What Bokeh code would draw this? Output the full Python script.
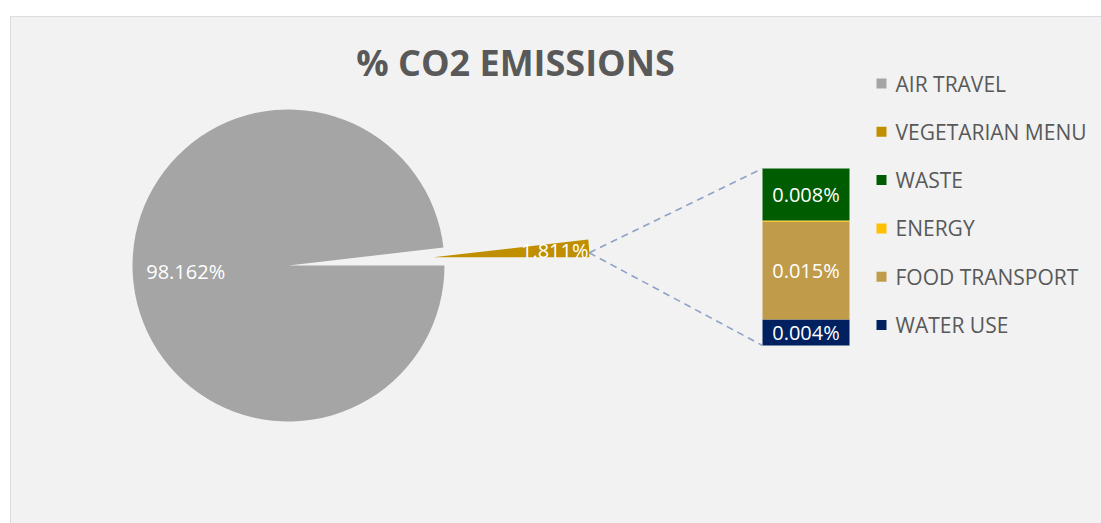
import math
from bokeh.plotting import figure
from bokeh.models import Range1d, ColumnDataSource
from bokeh.core.properties import value
from bokeh.embed import file_html
from bokeh.resources import INLINE

# ---------------- data ----------------
title_text = "% CO2 EMISSIONS"
categories = ["AIR TRAVEL", "VEGETARIAN MENU", "WASTE", "ENERGY", "FOOD TRANSPORT", "WATER USE"]
values = [98.162, 1.811, 0.008, 0.0002, 0.015, 0.004]   # percent of CO2 emissions
colors = ["#A5A5A5", "#BF8F00", "#005C00", "#FFC000", "#BF9B4A", "#002060"]
pie_items = ["AIR TRAVEL", "VEGETARIAN MENU"]
bar_items = ["WASTE", "ENERGY", "FOOD TRANSPORT", "WATER USE"]   # top -> bottom in the bar
label_fmt = "{:.3f}%"

# ---------------- layout (pixels) ----------------
W, H = 1101, 523
FONT = "Open Sans"
TXT = "#595959"
def Y(s):  # screen y -> data y
    return H - s

PIE_CX, PIE_CY, R = 288, Y(265), 156
EXPLODE = 145
BAR_X0, BAR_X1 = 762, 849
BAR_BOTTOM, BAR_H = Y(345), 177

val = dict(zip(categories, values))
col = dict(zip(categories, colors))
total = sum(values)
other = sum(val[c] for c in bar_items)

p = figure(width=W, height=H, x_range=Range1d(0, W), y_range=Range1d(0, H),
           output_backend="svg", toolbar_location=None, min_border=0)
p.axis.visible = False
p.grid.visible = False
p.outline_line_color = None
p.background_fill_color = "white"
p.border_fill_color = "white"

# chart area
p.quad(left=[10], right=[W + 2], bottom=[-2], top=[Y(16)],
       fill_color="#F2F2F2", line_color="#D9DCE1", line_width=1)

# title
p.text(x=[515], y=[Y(62)], text=[title_text], text_font=value(FONT),
       text_font_style="bold", text_font_size="36px", text_color=TXT,
       text_align="center", text_baseline="middle")

# ---------------- pie ----------------
veg_ang = val["VEGETARIAN MENU"] / total * 2 * math.pi
oth_ang = other / total * 2 * math.pi
air_start = veg_ang + oth_ang

p.wedge(x=[PIE_CX], y=[PIE_CY], radius=R, start_angle=[air_start], end_angle=[2 * math.pi],
        fill_color=col["AIR TRAVEL"], line_color=None)

bis = veg_ang / 2
ax = PIE_CX + EXPLODE * math.cos(bis)
ay = PIE_CY + EXPLODE * math.sin(bis)
p.wedge(x=[ax], y=[ay], radius=R, start_angle=[0], end_angle=[veg_ang],
        fill_color=col["VEGETARIAN MENU"], line_color=None)

# pie labels
air_bis = (air_start + 2 * math.pi) / 2
p.text(x=[PIE_CX + 0.66 * R * math.cos(air_bis)], y=[PIE_CY + 0.66 * R * math.sin(air_bis)],
       text=[label_fmt.format(val["AIR TRAVEL"])], text_font=value(FONT), text_font_size="20px",
       text_color="white", text_align="center", text_baseline="middle")
p.text(x=[ax + 0.78 * R * math.cos(bis)], y=[ay + 0.78 * R * math.sin(bis)],
       text=[label_fmt.format(val["VEGETARIAN MENU"])], text_font=value(FONT), text_font_size="20px",
       text_color="white", text_align="center", text_baseline="middle")

# ---------------- bar of pie ----------------
scale = BAR_H / other
bottoms, tops, cols, labs, mids = [], [], [], [], []
cur = BAR_BOTTOM
for c in reversed(bar_items):
    h = val[c] * scale
    bottoms.append(cur); tops.append(cur + h); cols.append(col[c])
    mids.append(cur + h / 2)
    labs.append(label_fmt.format(val[c]) if val[c] >= 0.001 else "")
    cur += h
p.quad(left=BAR_X0, right=BAR_X1, bottom=bottoms, top=tops, fill_color=cols,
       line_color=None)
lab_src = ColumnDataSource(dict(x=[(BAR_X0 + BAR_X1) / 2] * len(labs), y=mids, t=labs))
p.text(x="x", y="y", text="t", source=lab_src, text_font=value(FONT), text_font_size="20px",
       text_color="white", text_align="center", text_baseline="middle")

# series lines
la = veg_ang / 4
sx = ax + R * math.cos(la)
sy = ay + R * math.sin(la)
p.segment(x0=[sx, sx], y0=[sy, sy], x1=[BAR_X0, BAR_X0], y1=[cur, BAR_BOTTOM],
          line_color="#8FA3C6", line_width=1.6, line_dash="7 5")

# ---------------- legend ----------------
LEG_X, LEG_Y0, LEG_DY = 881, Y(83), 48.3
ly = [LEG_Y0 - i * LEG_DY for i in range(len(categories))]
p.rect(x=[LEG_X] * len(categories), y=ly, width=10, height=10, fill_color=colors, line_color=None)
p.text(x=[LEG_X + 14] * len(categories), y=ly, text=categories, text_font=value(FONT),
       text_font_size="21px", text_color=TXT, text_align="left", text_baseline="middle")

open("out.html", "w").write(file_html(p, INLINE))
